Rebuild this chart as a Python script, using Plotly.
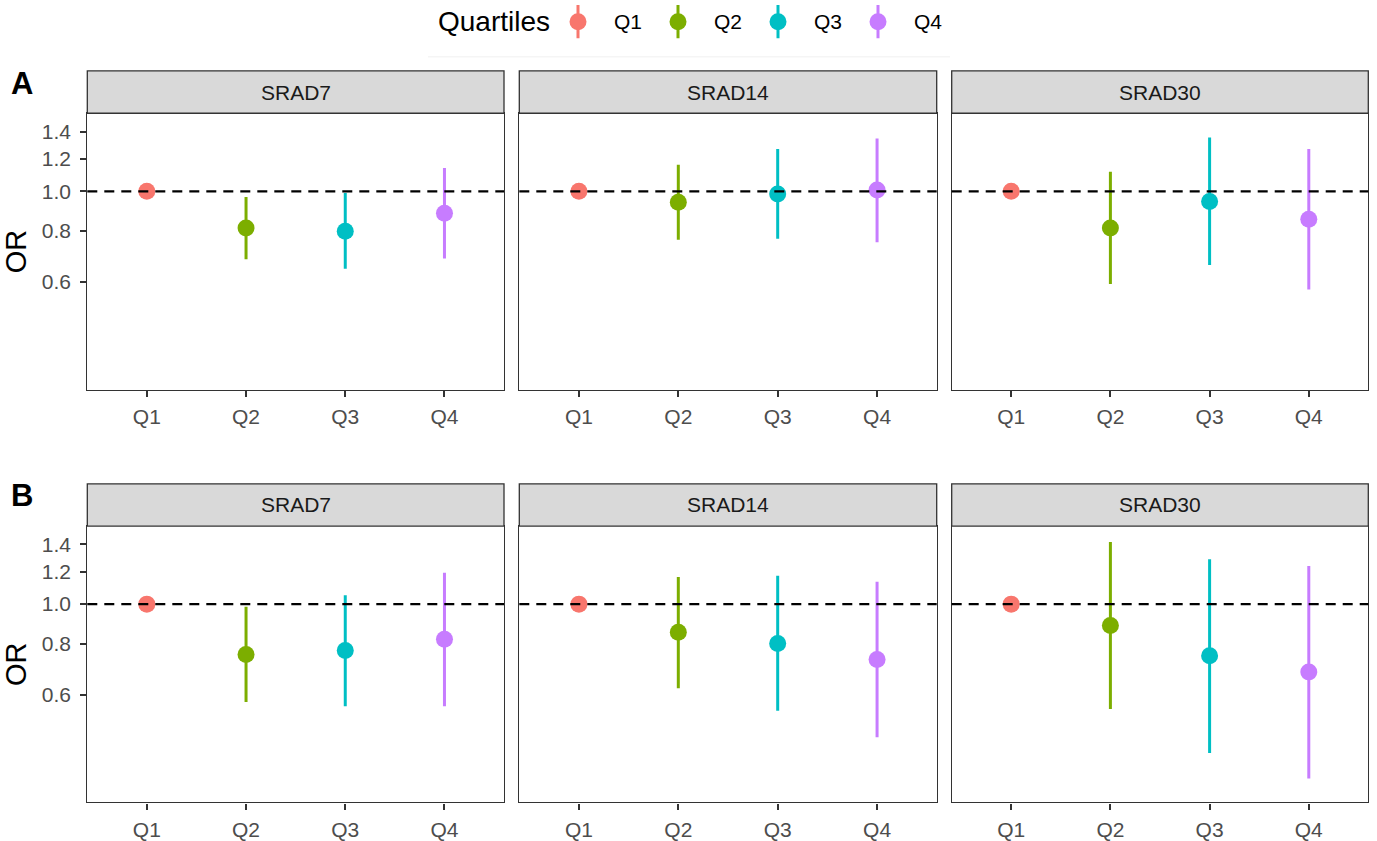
import math
import plotly.graph_objects as go

W, H = 1377, 841

# ---------------- data ----------------
quartiles = ["Q1", "Q2", "Q3", "Q4"]
colors = ["#F8766D", "#7CAE00", "#00BFC4", "#C77CFF"]
panels = ["SRAD7", "SRAD14", "SRAD30"]
rows = ["A", "B"]

# Row A
A_SRAD7_or = [1.0, 0.814, 0.799, 0.884]
A_SRAD7_lo = [1.0, 0.682, 0.647, 0.685]
A_SRAD7_hi = [1.0, 0.969, 0.991, 1.140]
A_SRAD14_or = [1.0, 0.940, 0.985, 1.008]
A_SRAD14_lo = [1.0, 0.761, 0.766, 0.751]
A_SRAD14_hi = [1.0, 1.162, 1.269, 1.346]
A_SRAD30_or = [1.0, 0.814, 0.945, 0.855]
A_SRAD30_lo = [1.0, 0.593, 0.660, 0.575]
A_SRAD30_hi = [1.0, 1.117, 1.354, 1.269]
# Row B
B_SRAD7_or = [1.0, 0.753, 0.770, 0.820]
B_SRAD7_lo = [1.0, 0.576, 0.562, 0.562]
B_SRAD7_hi = [1.0, 0.985, 1.052, 1.193]
B_SRAD14_or = [1.0, 0.853, 0.801, 0.732]
B_SRAD14_lo = [1.0, 0.622, 0.548, 0.472]
B_SRAD14_hi = [1.0, 1.166, 1.173, 1.134]
B_SRAD30_or = [1.0, 0.887, 0.747, 0.682]
B_SRAD30_lo = [1.0, 0.554, 0.432, 0.374]
B_SRAD30_hi = [1.0, 1.419, 1.287, 1.240]

y_tickvals = [0.6, 0.8, 1.0, 1.2, 1.4]
y_ticktext = ["0.6", "0.8", "1.0", "1.2", "1.4"]
y_limits = [0.327, 1.553]
ref_line = 1.0

data = {
    ("A", "SRAD7"): (A_SRAD7_or, A_SRAD7_lo, A_SRAD7_hi),
    ("A", "SRAD14"): (A_SRAD14_or, A_SRAD14_lo, A_SRAD14_hi),
    ("A", "SRAD30"): (A_SRAD30_or, A_SRAD30_lo, A_SRAD30_hi),
    ("B", "SRAD7"): (B_SRAD7_or, B_SRAD7_lo, B_SRAD7_hi),
    ("B", "SRAD14"): (B_SRAD14_or, B_SRAD14_lo, B_SRAD14_hi),
    ("B", "SRAD30"): (B_SRAD30_or, B_SRAD30_lo, B_SRAD30_hi),
}

# ---------------- layout geometry (pixels) ----------------
col_px = [(87.3, 504.0), (519.3, 936.7), (951.7, 1368.3)]
row_px = {"A": (113.5, 390.7), "B": (527.3, 804.3)}
strip_px = {"A": (71.0, 113.5), "B": (485.0, 527.3)}
label_y = {"A": 83.5, "B": 497.0}

FONT = "Liberation Sans, Arial, Helvetica, sans-serif"


def px_x(p):
    return p / W


def px_y(p):
    return 1 - p / H


fig = go.Figure()
layout = dict(
    width=W, height=H,
    margin=dict(l=0, r=0, t=0, b=0),
    paper_bgcolor="white", plot_bgcolor="white",
    showlegend=False,
    font=dict(family=FONT),
)
shapes = []
annotations = []

idx = 0
for r in rows:
    for c, pname in enumerate(panels):
        idx += 1
        xa = "x" if idx == 1 else f"x{idx}"
        ya = "y" if idx == 1 else f"y{idx}"
        xkey = "xaxis" if idx == 1 else f"xaxis{idx}"
        ykey = "yaxis" if idx == 1 else f"yaxis{idx}"
        x0, x1 = col_px[c]
        ytop, ybot = row_px[r]
        layout[xkey] = dict(
            domain=[px_x(x0), px_x(x1)], anchor=ya,
            type="category", categoryorder="array", categoryarray=quartiles,
            range=[-0.6, 3.6], showgrid=False, zeroline=False,
            showline=True, mirror=True, linecolor="#333333", linewidth=1.3,
            ticks="outside", ticklen=6, tickwidth=1.6, tickcolor="#333333",
            tickfont=dict(size=21, color="#4D4D4D", family=FONT),
            ticklabelstandoff=2,
            fixedrange=True,
        )
        ydict = dict(
            domain=[px_y(ybot), px_y(ytop)], anchor=xa,
            type="log", range=[math.log10(y_limits[0]), math.log10(y_limits[1])],
            showgrid=False, zeroline=False,
            showline=True, mirror=True, linecolor="#333333", linewidth=1.3,
            tickvals=y_tickvals, ticktext=y_ticktext,
            fixedrange=True,
        )
        if c == 0:
            ydict.update(ticks="outside", ticklen=6, tickwidth=1.6, tickcolor="#333333",
                         tickfont=dict(size=21, color="#4D4D4D", family=FONT),
                         ticklabelstandoff=5,
                         title=dict(text="OR", font=dict(size=29, color="black", family=FONT),
                                    standoff=8))
        else:
            ydict.update(ticks="", showticklabels=False)
        layout[ykey] = ydict

        orv, lo, hi = data[(r, pname)]
        for q in range(4):
            fig.add_trace(go.Scatter(
                x=[quartiles[q]], y=[orv[q]], xaxis=xa, yaxis=ya,
                mode="markers",
                marker=dict(color=colors[q], size=17, line=dict(width=0)),
                error_y=dict(type="data", symmetric=False,
                             array=[hi[q] - orv[q]], arrayminus=[orv[q] - lo[q]],
                             color=colors[q], thickness=3, width=0),
                hoverinfo="skip",
            ))
        # reference line
        shapes.append(dict(type="line", xref=f"{xa} domain", yref=ya,
                           x0=0, x1=1, y0=ref_line, y1=ref_line,
                           line=dict(color="black", width=2.3, dash="10px,7px"),
                           layer="above"))
        # strip
        s0, s1 = strip_px[r]
        shapes.append(dict(type="rect", xref="paper", yref="paper",
                           x0=px_x(x0), x1=px_x(x1), y0=px_y(s1), y1=px_y(s0),
                           fillcolor="#D9D9D9", line=dict(color="#333333", width=1.3),
                           layer="above"))
        annotations.append(dict(text=pname, xref="paper", yref="paper",
                                x=px_x((x0 + x1) / 2), y=px_y((s0 + s1) / 2),
                                xanchor="center", yanchor="middle", showarrow=False,
                                font=dict(size=21, color="#1A1A1A", family=FONT)))
    annotations.append(dict(text=f"<b>{r}</b>", xref="paper", yref="paper",
                            x=px_x(22), y=px_y(label_y[r]), xanchor="center", yanchor="middle",
                            showarrow=False, font=dict(size=31, color="black", family=FONT)))

# ---------------- legend (drawn on its own small axis) ----------------
idx += 1
lx, ly = f"x{idx}", f"y{idx}"
layout[f"xaxis{idx}"] = dict(domain=[px_x(528), px_x(928)], anchor=ly, type="category",
                             categoryorder="array", categoryarray=quartiles,
                             range=[-0.5, 3.5], visible=False, fixedrange=True)
layout[f"yaxis{idx}"] = dict(domain=[px_y(38.5), px_y(5.0)], anchor=lx,
                             range=[-1, 1], visible=False, fixedrange=True)
for q in range(4):
    fig.add_trace(go.Scatter(
        x=[quartiles[q]], y=[0], xaxis=lx, yaxis=ly, mode="markers",
        marker=dict(color=colors[q], size=17),
        error_y=dict(type="constant", value=1, color=colors[q], thickness=3, width=0),
        hoverinfo="skip",
    ))
    annotations.append(dict(text=quartiles[q], xref=lx, yref=ly, x=quartiles[q], y=0,
                            xanchor="left", yanchor="middle", xshift=34, showarrow=False,
                            font=dict(size=21, color="black", family=FONT)))
annotations.append(dict(text="Quartiles", xref="paper", yref="paper",
                        x=px_x(436), y=px_y(22), xanchor="left", yanchor="middle",
                        showarrow=False, font=dict(size=28, color="black", family=FONT)))
shapes.append(dict(type="line", xref="paper", yref="paper",
                   x0=px_x(428), x1=px_x(950), y0=px_y(57), y1=px_y(57),
                   line=dict(color="#F0F0F0", width=1)))

layout["shapes"] = shapes
layout["annotations"] = annotations
fig.update_layout(**layout)
fig.write_html("out.html", config={"displayModeBar": False},
               post_script="document.body.style.margin='0';document.body.style.overflow='hidden';")
